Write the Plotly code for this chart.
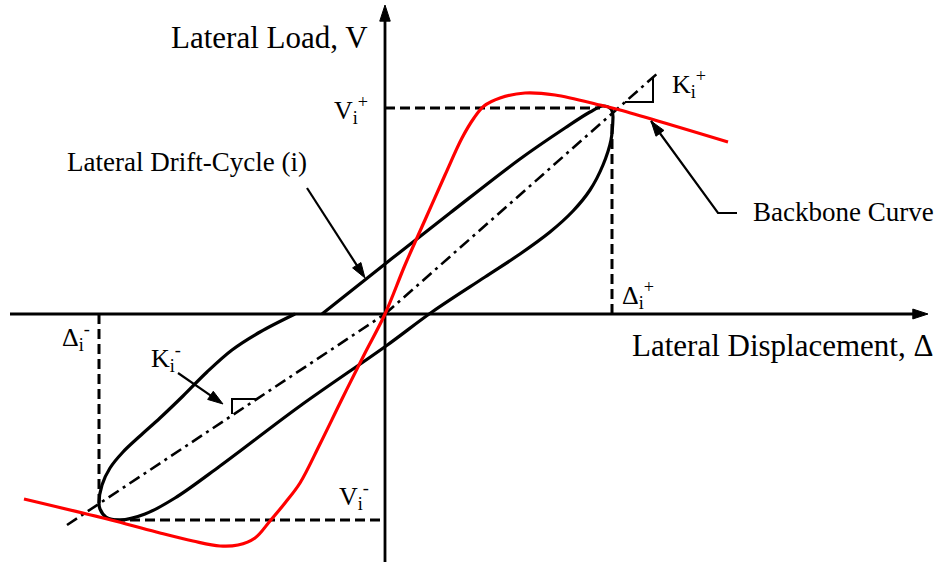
import plotly.graph_objects as go

# Backbone (envelope) curve: lateral displacement vs. lateral load (arbitrary units)
backbone_disp = [-361, -270, -225, -192, -165, -147, -130, -115, -100, -85, -65, -43,
                 -21, 0, 20, 40, 60, 77, 89, 99, 115, 140, 170, 215, 235, 343]
backbone_load = [-185, -207, -219, -227, -232, -231, -224, -207, -189, -169, -130, -85,
                 -41, 0, 49, 94, 139, 176, 196, 208, 216, 221, 219, 209, 204, 172]

# Drift cycle (i): unloading from the positive peak, round the negative peak,
# back up to the displacement axis
loop_a_disp = [228, 226, 218, 205, 188, 165, 135, 100, 47, 1, -85, -165, -210, -240,
               -265, -279, -285, -286, -283, -275, -262, -245, -225, -202, -178,
               -153, -125, -90]
loop_a_load = [197, 174, 149, 124, 103, 82, 60, 37, 2, -32, -92, -152, -184, -200,
               -206, -203, -195, -189, -171, -154, -138, -122, -104, -82, -58,
               -36, -18, 0]
# Drift cycle (i): reloading from the displacement axis to the positive peak
loop_b_disp = [-63, 0, 65, 135, 180, 205, 218, 226, 228]
loop_b_load = [0, 50, 101, 155, 186, 202, 208, 205, 197]

# Peak guides (dashed)
guide_vpos = ([0, 215], [206, 206])
guide_dpos = ([227, 227], [190, 0])
guide_dneg = ([-286, -286], [0, -189])
guide_vneg = ([-270, 0], [-206, -206])

# Secant stiffness lines (dash-dot) and their slope marks
secant_pos = ([0, 274], [0, 242])
secant_neg = ([-318, 0], [-211, 0])
tri_pos = ([240, 268, 268], [212, 212, 237])
tri_neg = ([-128, -153, -153], [-85, -85, -100])

# Coordinate axes and leader arrows
axis_h = ([-375, 543], [0, 0])
axis_v = ([0, 0], [-248, 309])
drift_leader = ([-78, -20], [126, 36])
backbone_leader = ([352, 333, 266], [101, 101, 193])
kneg_leader = ([-207, -162], [-59, -90])

FONT = "Liberation Serif"

fig = go.Figure()


def line(xy, color="black", width=2.5, dash="solid", shape="linear"):
    fig.add_trace(go.Scatter(x=xy[0], y=xy[1], mode="lines",
                             line=dict(color=color, width=width, dash=dash, shape=shape),
                             hoverinfo="skip"))


def arrow(xy, width=2, head=16):
    n = len(xy[0])
    fig.add_trace(go.Scatter(
        x=xy[0], y=xy[1], mode="lines+markers",
        line=dict(color="black", width=width),
        marker=dict(symbol=["circle"] * (n - 1) + ["arrow"],
                    size=[0] * (n - 1) + [head],
                    angleref="previous", color="#000000", opacity=1,
                    line=dict(width=1, color="#000000")),
        opacity=1,
        hoverinfo="skip"))


DASH = "10px,5px"
DASHDOT = "12px,5px,3px,5px"

# axes
arrow(axis_h, width=2.8, head=16)
arrow(axis_v, width=2.8, head=17)

# guides
for g in (guide_vpos, guide_dpos, guide_dneg, guide_vneg):
    line(g, width=3, dash=DASH)

# secants
line(secant_pos, width=2.6, dash=DASHDOT)
line(secant_neg, width=2.6, dash=DASHDOT)
line(tri_pos, width=2)
line(tri_neg, width=2)

# hysteresis loop
line((loop_a_disp, loop_a_load), width=3.2, shape="spline")
line((loop_b_disp, loop_b_load), width=3.2, shape="spline")

# backbone curve
line((backbone_disp, backbone_load), color="#ff0000", width=3.2, shape="spline")

# leaders
arrow(drift_leader, width=2.2, head=16)
arrow(backbone_leader, width=2.2, head=16)
arrow(kneg_leader, width=2.2, head=16)

labels = [
    ("Lateral Load, V", -116, 277, 31, "center"),
    ("Lateral Displacement, Δ", 397, -31, 31, "center"),
    ("Lateral Drift-Cycle (i)", -198, 152, 27, "center"),
    ("Backbone Curve", 458, 102, 27, "center"),
    ("V<sub>i</sub><sup>+</sup>", -53, 204, 26, "left"),
    ("K<sub>i</sub><sup>+</sup>", 285, 230, 26, "left"),
    ("Δ<sub>i</sub><sup>+</sup>", 235, 19, 26, "left"),
    ("Δ<sub>i</sub><sup>-</sup>", -325, -23, 26, "left"),
    ("K<sub>i</sub><sup>-</sup>", -236, -44, 26, "left"),
    ("V<sub>i</sub><sup>-</sup>", -48, -182, 26, "left"),
]
for text, x, y, size, anchor in labels:
    fig.add_annotation(x=x, y=y, text=text, showarrow=False, xanchor=anchor,
                       yanchor="middle", font=dict(family=FONT, size=size, color="black"))

fig.update_layout(
    width=939, height=567,
    margin=dict(l=0, r=0, t=0, b=0),
    paper_bgcolor="white", plot_bgcolor="white",
    showlegend=False,
    xaxis=dict(visible=False, range=[-385, 554], fixedrange=True),
    yaxis=dict(visible=False, range=[-253, 314], fixedrange=True),
)

fig.write_html("out.html")
